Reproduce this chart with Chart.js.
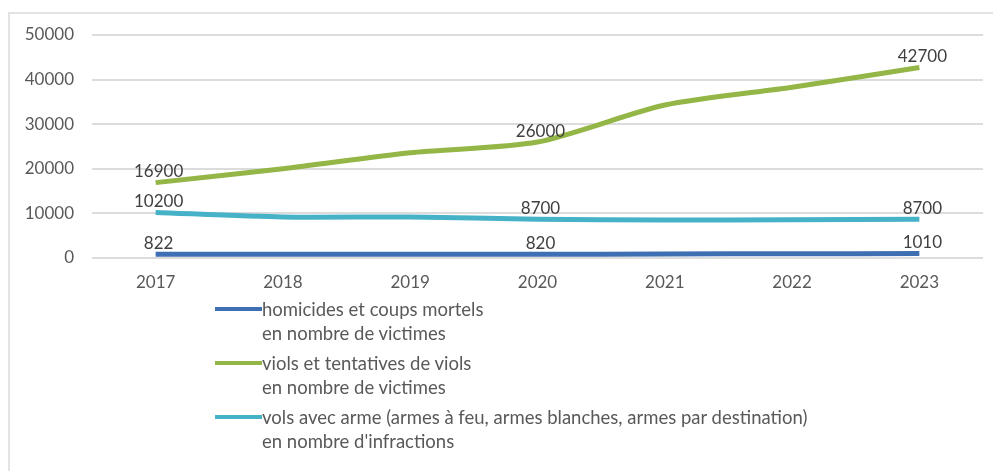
<!DOCTYPE html>
<html>
<head>
<meta charset="utf-8">
<script src="https://cdn.jsdelivr.net/npm/chart.js@4/dist/chart.umd.min.js"></script>
<style>
  html, body { margin: 0; padding: 0; background: #fff; }
  #wrap { position: relative; width: 993px; height: 471px; overflow: hidden; font-family: Lato, "Open Sans", sans-serif; }
  #frame { position: absolute; left: 8px; top: 12px; width: 990px; height: 470px; border-left: 2px solid #e3e3e3; border-top: 2px solid #e3e3e3; box-sizing: border-box; }
  #c { position: absolute; left: 0; top: 0; }
  #legend { position: absolute; left: 215px; top: 297px; color: #595959; font-size: 18.5px; }
  .item { position: relative; padding-left: 47px; margin-bottom: 6px; line-height: 24px; white-space: nowrap; }
  .swatch { position: absolute; left: 0; top: 10px; width: 47px; height: 4px; }
</style>
</head>
<body>
<div id="wrap">
  <div id="frame"></div>
  <canvas id="c" width="993" height="471"></canvas>
  <div id="legend"></div>
</div>
<script>
const categories = ["2017", "2018", "2019", "2020", "2021", "2022", "2023"];
const homicides = [822, 850, 860, 820, 900, 950, 1010];
const viols = [16900, 20000, 23600, 26000, 34300, 38300, 42700];
const volsArme = [10200, 9200, 9200, 8700, 8500, 8600, 8700];
const homicidesLabels = ["822", null, null, "820", null, null, "1010"];
const violsLabels = ["16900", null, null, "26000", null, null, "42700"];
const volsArmeLabels = ["10200", null, null, "8700", null, null, "8700"];
const seriesNames = [
  ["homicides et coups mortels", "en nombre de victimes"],
  ["viols et tentatives de viols", "en nombre de victimes"],
  ["vols avec arme (armes à feu, armes blanches, armes par destination)", "en nombre d'infractions"]
];
const yTicks = [0, 10000, 20000, 30000, 40000, 50000];
const colors = ["#3f6fb3", "#93b646", "#45b2c8"];

const labelPlugin = {
  id: 'pointLabels',
  afterDatasetsDraw(chart) {
    const ctx = chart.ctx;
    ctx.save();
    ctx.font = '17px Lato, "Open Sans", sans-serif';
    ctx.fillStyle = '#404040';
    ctx.textAlign = 'center';
    ctx.textBaseline = 'middle';
    chart.data.datasets.forEach((ds, i) => {
      const meta = chart.getDatasetMeta(i);
      meta.data.forEach((pt, j) => {
        const t = ds.pointLabels[j];
        if (t) ctx.fillText(t, pt.x + 3, pt.y - 11);
      });
    });
    ctx.restore();
  }
};

const dsDefs = [
  { data: homicides, pointLabels: homicidesLabels },
  { data: viols, pointLabels: violsLabels },
  { data: volsArme, pointLabels: volsArmeLabels }
];

new Chart(document.getElementById('c'), {
  type: 'line',
  data: {
    labels: categories,
    datasets: dsDefs.map((d, i) => ({
      label: seriesNames[i].join(' '),
      data: d.data,
      pointLabels: d.pointLabels,
      borderColor: colors[i],
      backgroundColor: colors[i],
      borderWidth: 5,
      pointRadius: 0,
      tension: 0.25,
      borderCapStyle: 'butt'
    }))
  },
  options: {
    responsive: false,
    animation: false,
    devicePixelRatio: 1,
    layout: { padding: { top: 35, right: 10, left: 0, bottom: 0 } },
    plugins: { legend: { display: false }, tooltip: { enabled: false } },
    scales: {
      x: {
        offset: true,
        grid: { display: false, drawTicks: false },
        border: { display: false },
        ticks: { color: '#595959', font: { family: 'Lato', size: 17 }, padding: 14, maxRotation: 0 },
        afterFit(s) { s.height = 471 - 258; }
      },
      y: {
        min: 0, max: 50000,
        afterBuildTicks(s) { s.ticks = yTicks.map(v => ({ value: v })); },
        grid: { color: '#dcdcdc', lineWidth: 2, drawTicks: false },
        border: { display: false },
        ticks: { color: '#595959', font: { family: 'Lato', size: 17 }, padding: 18, callback: v => String(v) },
        afterFit(s) { s.width = 92; }
      }
    }
  },
  plugins: [labelPlugin]
});

const leg = document.getElementById('legend');
seriesNames.forEach((lines, i) => {
  const d = document.createElement('div');
  d.className = 'item';
  const sw = document.createElement('span');
  sw.className = 'swatch';
  sw.style.background = colors[i];
  d.appendChild(sw);
  lines.forEach((ln, k) => {
    if (k) d.appendChild(document.createElement('br'));
    d.appendChild(document.createTextNode(ln));
  });
  leg.appendChild(d);
});
</script>
</body>
</html>
